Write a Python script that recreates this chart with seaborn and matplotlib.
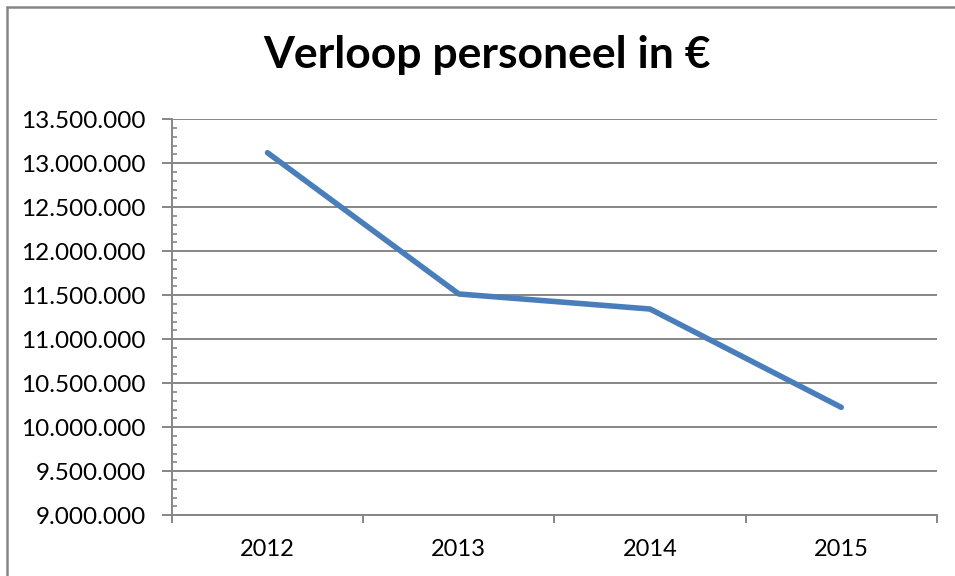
import pandas as pd
import seaborn as sns
from matplotlib import pyplot as plt
from matplotlib.lines import Line2D
from matplotlib.ticker import FuncFormatter, MultipleLocator, FixedLocator

years = ["2012", "2013", "2014", "2015"]
kosten = [13120000, 11515000, 11344000, 10227000]

df = pd.DataFrame({"jaar": years, "kosten": kosten})

sns.set_style("white")
plt.rcParams["font.family"] = ["Lato", "DejaVu Sans"]
plt.rcParams["text.color"] = "black"
plt.rcParams["xtick.labelcolor"] = "black"
plt.rcParams["ytick.labelcolor"] = "black"

grey = "#868686"
fig = plt.figure(figsize=(9.55, 5.76), dpi=100)
ax = fig.add_axes([0.180, 0.1054, 0.801, 0.6875])

sns.lineplot(x="jaar", y="kosten", data=df, ax=ax, color="#4A7EBB",
             linewidth=4, solid_capstyle="round", solid_joinstyle="round")

ax.set_ylim(9000000, 13500000)
ax.set_xlim(-0.5, 3.5)
ax.yaxis.set_major_locator(MultipleLocator(500000))
ax.yaxis.set_minor_locator(MultipleLocator(100000))
ax.yaxis.set_major_formatter(FuncFormatter(lambda v, p: f"{v:,.0f}".replace(",", ".")))

# x: tick marks between categories, labels centred
ax.xaxis.set_major_locator(FixedLocator([-0.5, 0.5, 1.5, 2.5, 3.5]))
ax.xaxis.set_minor_locator(FixedLocator([0, 1, 2, 3]))
ax.set_xticklabels([])
ax.set_xticklabels(years, minor=True)

ax.grid(axis="y", which="major", color=grey, linewidth=1.4)
ax.set_axisbelow(True)
ax.set_xlabel("")
ax.set_ylabel("")

for side in ["top", "right"]:
    ax.spines[side].set_visible(False)
for side in ["left", "bottom"]:
    ax.spines[side].set_color(grey)
    ax.spines[side].set_linewidth(1.4)

ax.tick_params(axis="y", which="major", direction="out", length=7, width=1.4,
               color=grey, labelsize=17.5, labelcolor="black", pad=12, left=True)
ax.tick_params(axis="y", which="minor", direction="in", length=3.5, width=1.2,
               color=grey, left=True)
ax.tick_params(axis="x", which="major", direction="out", length=6, width=1.4,
               color=grey, bottom=True)
ax.tick_params(axis="x", which="minor", length=0, labelsize=17, labelcolor="black", pad=17)

fig.text(0.51, 0.882, "Verloop personeel in €", ha="center", va="baseline",
         fontsize=32, fontweight="bold", color="black")

# chart area border (cut off at right and bottom)
fig.add_artist(Line2D([6.5 / 955, 1], [1 - 6.5 / 576, 1 - 6.5 / 576],
                      transform=fig.transFigure, color=grey, linewidth=1.8))
fig.add_artist(Line2D([6.5 / 955, 6.5 / 955], [0, 1 - 6.5 / 576],
                      transform=fig.transFigure, color=grey, linewidth=1.8))

plt.savefig("out.png", dpi=100)
